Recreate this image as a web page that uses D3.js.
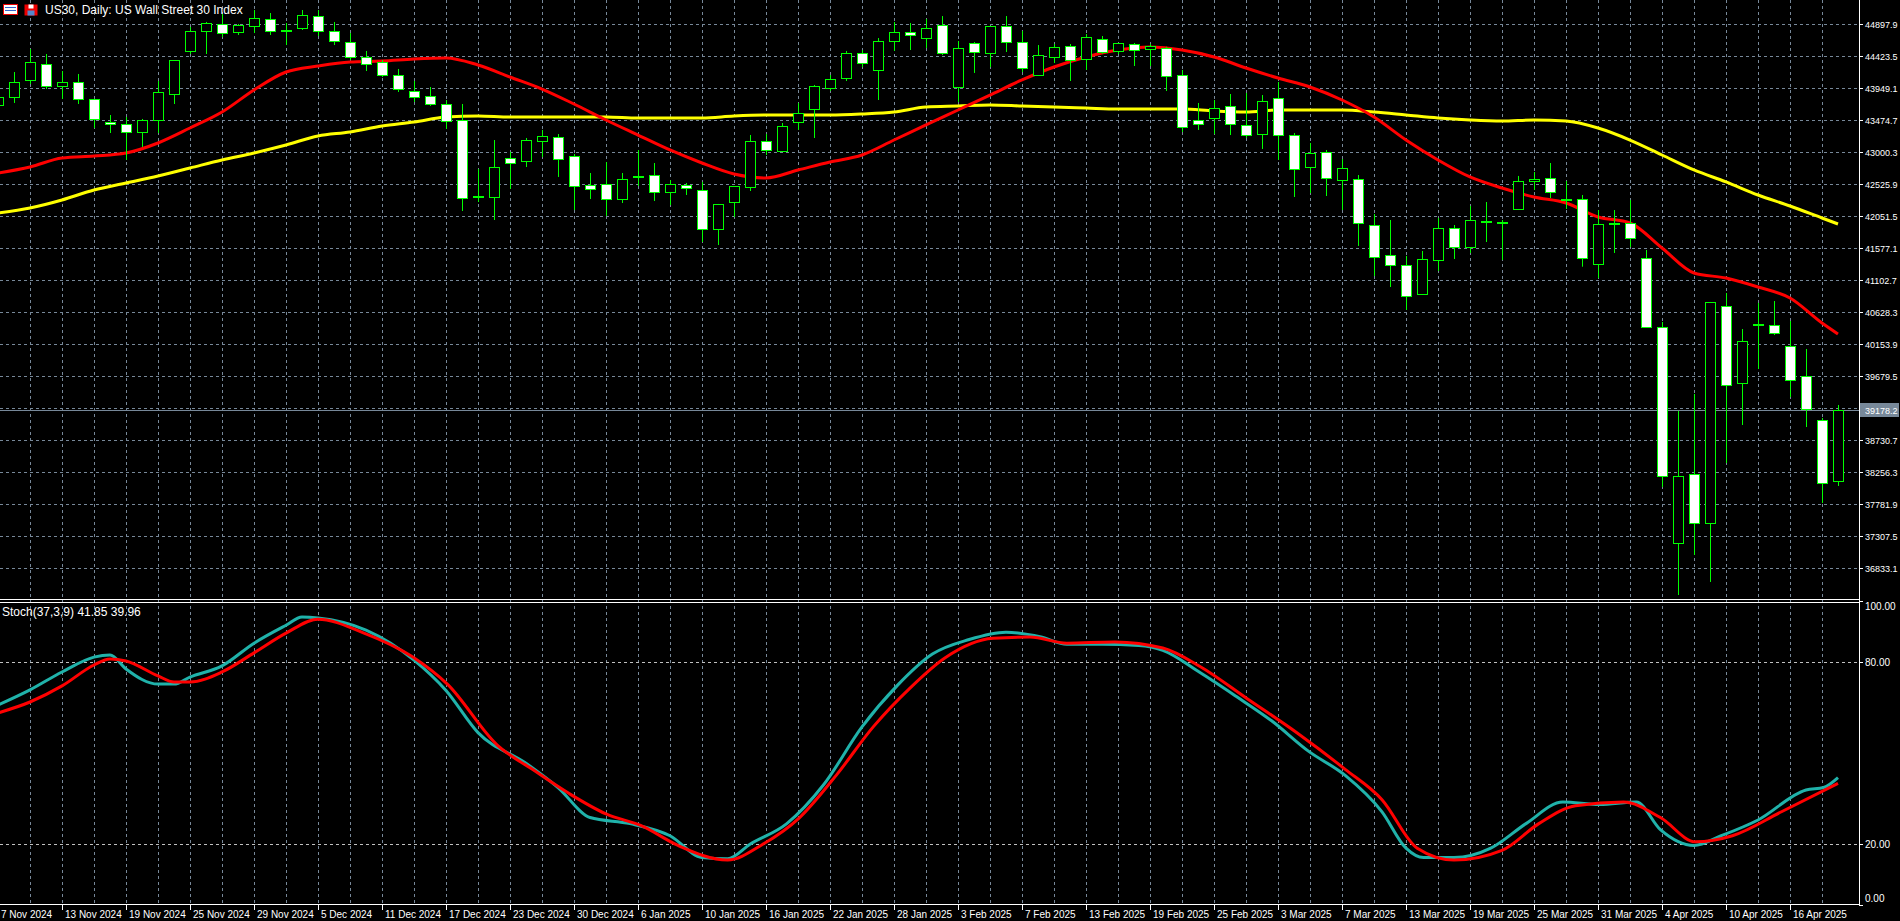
<!DOCTYPE html>
<html><head><meta charset="utf-8">
<script src="https://cdn.jsdelivr.net/npm/d3@7/dist/d3.min.js"></script>
<style>html,body{margin:0;padding:0;background:#000;overflow:hidden}svg{display:block}</style>
</head><body>
<svg id="c" width="1900" height="921"></svg>
<script>
const O=[43700,43816,44068,44305,43979,44038,43786,43445,43416,43297,43475,43860,44498,44794,44898,44779,44868,44972,44809,44839,
45016,44794,44631,44409,44335,44142,43905,43830,43712,43475,42347,42333,42911,42867,43163,43223,42941,42511,42526,42303,
42644,42660,42407,42511,42437,41859,42259,42481,43163,43015,43445,43638,43949,44097,44468,44216,44646,44779,44690,44883,
43964,44616,44468,44868,44631,44142,44409,44572,44379,44675,44498,44601,44527,44542,44142,43475,43504,43683,43401,43267,
43801,43252,42778,43000,42585,42600,41918,41474,41325,40895,41399,41874,41592,41977,41963,42155,42570,42615,42303,42303,
41340,41948,41948,41429,40407,37204,38226,37500,40717,39576,40450,40436,40124,39680,39027,38123];
const H=[43900,44186,44527,44453,44201,44157,43790,43549,43519,43490,44053,44364,44853,44928,45046,44898,45105,45061,44913,45105,
45105,44928,44764,44498,44364,44231,44053,43964,43771,43712,42748,43178,43000,43208,43327,43267,42971,42689,42852,42689,
43030,42837,42585,42541,42556,42230,42496,43253,43267,43430,43727,43994,44142,44498,44512,44690,44928,44913,44972,45016,
44646,44631,44868,45016,44794,44586,44601,44601,44749,44720,44616,44616,44601,44560,44216,43727,43771,43860,43875,43845,
44038,43282,43134,43030,42896,42659,42081,41992,41459,41533,42022,41918,42200,42259,41992,42645,42704,42837,42570,42363,
42140,42140,42289,41548,40480,39161,39413,40777,40910,40376,40762,40791,40495,40080,39057,39250];
const L=[43650,43727,44008,43934,43786,43712,43356,43282,42882,43075,43282,43712,44453,44453,44705,44735,44764,44735,44586,44809,
44720,44586,44364,44201,44112,43890,43742,43683,43341,42126,42259,41992,42452,42778,42926,42630,42140,42303,42052,42244,
42496,42274,42214,42363,41666,41622,42037,42422,42956,43000,43327,43208,43905,44053,44260,43771,44498,44512,44542,44438,
43742,44172,44260,44483,44186,44142,44320,44053,44216,44453,44453,44275,44275,43905,43297,43327,43267,43252,43208,43045,
42882,42333,42392,42348,42140,41607,41162,40999,40658,40880,41236,41414,41503,41666,41399,42140,42437,42318,42155,41300,
41132,41503,41592,40391,38034,36433,37026,36626,38390,38953,39783,40287,39368,38923,37797,38049];
const C=[43820,44038,44335,43979,44038,43786,43490,43416,43297,43475,43890,44364,44794,44913,44764,44883,44987,44794,44812,45031,
44794,44646,44409,44305,44142,43934,43816,43712,43460,42318,42350,42778,42837,43178,43237,42896,42496,42452,42303,42600,
42647,42407,42526,42467,41859,42230,42496,43163,43030,43386,43579,43979,44083,44468,44320,44646,44779,44735,44839,44468,
44542,44483,44868,44631,44246,44438,44557,44364,44705,44483,44616,44512,44572,44127,43371,43416,43653,43416,43252,43756,
43252,42748,42986,42615,42763,41948,41444,41325,40866,41415,41874,41592,41992,41980,41960,42570,42600,42407,42300,41429,
41933,41950,41726,40407,38197,38197,37500,40777,39546,40198,40453,40317,39620,39190,38093,39178];

const maIdx=[0,2,4,6,8,10,12,14,16,18,20,22,24,26,28,30,32,34,36,38,40,42,44,46,48,50,52,54,56,58,60,62,64,66,68,70,72,74,76,78,80,82,84,86,88,90,92,94,96,98,100,102,104,106,108,110,112,114,115];
const maFast=[42689,42778,42911,42941,42986,43134,43356,43593,43920,44186,44275,44335,44349,44379,44394,44290,44112,43934,43712,43475,43252,43030,42837,42674,42615,42733,42852,42956,43178,43401,43623,43845,44068,44260,44409,44512,44557,44512,44409,44246,44097,43964,43771,43519,43178,42882,42630,42466,42333,42244,42037,41948,41577,41207,41132,40999,40836,40465,40302];
const maSlow=[42096,42170,42289,42437,42541,42645,42763,42882,42986,43104,43238,43297,43386,43445,43519,43534,43519,43519,43519,43519,43504,43504,43504,43534,43549,43549,43549,43564,43593,43667,43682,43697,43682,43667,43652,43638,43638,43638,43608,43593,43623,43623,43623,43593,43549,43504,43475,43460,43475,43460,43356,43178,42956,42734,42556,42363,42200,42022,41933];

const stMainIdx=[0,2,4,6,7,8,10,11,12,14,16,18,19,20,23,26,28,30,33,35,37,39.5,42,44,45.6,47,49.3,51.6,54,56.2,58.4,60.7,63,65.2,66.8,69,71.3,72.8,75.1,77.4,79.6,81.9,84.2,86.5,88,89.1,91,93.3,95.5,97.8,100.1,102.4,103.9,106,107.7,110,113,114.1,115];
const stMain=[65.8,70.8,76.7,81.6,82.3,77.7,72.7,72.7,75.0,78.7,86.2,92.1,94.8,94.5,90.5,80.6,70.6,56.7,46.6,38.6,28.7,26.7,22.7,15.5,15.1,19.9,26.7,39.5,58.6,72.2,82.6,87.4,89.8,88.2,85.8,85.8,85.4,83.8,76.6,68.6,60.6,50.6,42.6,30.6,18.6,15.5,15.5,18.6,26.7,33.8,33.0,33.8,24.7,19.5,22.7,27.9,37.8,38.6,41.85];
const stSigIdx=[0,2,4,6,7,8,10,11,12,14,16,18,20,22.8,25.9,28.1,31.2,33.4,35.7,38,40.3,42.5,45.6,47.8,50.1,52.4,54.7,57,59.2,62.2,64.5,66.8,69.8,72.8,75.1,78.1,81.2,84.2,86.5,88.7,91,94,96.3,98.6,101.6,103.9,106.1,108.4,111.5,115];
const stSig=[63.2,66.8,72.1,79.0,81.0,80.3,75.4,73.4,73.4,76.7,83.0,89.5,94.1,89.7,81.7,72.6,52.6,44.6,36.6,29.9,25.8,19.5,14.7,19.9,28.7,42.7,58.6,71.4,81.4,87.8,88.2,86.2,86.6,84.6,78.6,67.8,56.6,44.6,34.6,18.6,14.7,17.9,26.7,32.6,33.8,28.7,20.7,22.7,30.7,39.96];

const priceTicks=[44897.9,44423.5,43949.1,43474.7,43000.3,42525.9,42051.5,41577.1,41102.7,40628.3,40153.9,39679.5,39205.1,38730.7,38256.3,37781.9,37307.5,36833.1];
const stochTicks=[100,80,20,0];
const dateLabels=["7 Nov 2024","13 Nov 2024","19 Nov 2024","25 Nov 2024","29 Nov 2024","5 Dec 2024","11 Dec 2024","17 Dec 2024","23 Dec 2024","30 Dec 2024","6 Jan 2025","10 Jan 2025","16 Jan 2025","22 Jan 2025","28 Jan 2025","3 Feb 2025","7 Feb 2025","13 Feb 2025","19 Feb 2025","25 Feb 2025","3 Mar 2025","7 Mar 2025","13 Mar 2025","19 Mar 2025","25 Mar 2025","31 Mar 2025","4 Apr 2025","10 Apr 2025","16 Apr 2025"];
const lastPrice=39178.2, stochText="Stoch(37,3,9) 41.85 39.96", title="US30, Daily:  US Wall Street 30 Index";

const svg=d3.select("#c");
const FONT="'Liberation Sans', Arial, sans-serif";
const axisX=1859, plotW=1859;
const x=d3.scaleLinear().domain([0,115]).range([-2,1838]);
const y=d3.scaleLinear().domain([36833.1,44897.9]).range([568,24]);
const ys=d3.scaleLinear().domain([0,100]).range([904.6,601.3]);
const grid="#778899";

svg.append("rect").attr("width",1900).attr("height",921).attr("fill","#000");
const plot=svg.append("g");
plot.append("clipPath").attr("id","cp").append("rect").attr("x",0).attr("y",0).attr("width",plotW).attr("height",599);
plot.append("clipPath").attr("id","cs").append("rect").attr("x",0).attr("y",603).attr("width",plotW).attr("height",301);

const vg=d3.range(0,116,2);
plot.selectAll(".vg").data(vg).join("line").attr("x1",d=>x(d)+0.5).attr("x2",d=>x(d)+0.5).attr("y1",0).attr("y2",904)
 .attr("stroke",grid).attr("stroke-dasharray","3,3");
plot.selectAll(".hg").data(priceTicks).join("line").attr("x1",0).attr("x2",plotW).attr("y1",d=>Math.round(y(d))+0.5).attr("y2",d=>Math.round(y(d))+0.5)
 .attr("stroke",grid).attr("stroke-dasharray","3,3");
plot.selectAll(".hs").data([80,20]).join("line").attr("x1",0).attr("x2",plotW).attr("y1",d=>Math.round(ys(d))+0.5).attr("y2",d=>Math.round(ys(d))+0.5)
 .attr("stroke","#c0c0c0").attr("stroke-dasharray","3,3");

const pg=plot.append("g").attr("clip-path","url(#cp)");
const mline=d3.line().x((d,i)=>x(maIdx[i])).y(d=>y(d)).curve(d3.curveMonotoneX);
pg.append("path").attr("d",mline(maSlow)).attr("fill","none").attr("stroke","#ffff00").attr("stroke-width",3);
pg.append("path").attr("d",mline(maFast)).attr("fill","none").attr("stroke","#ff0000").attr("stroke-width",3);

pg.append("line").attr("x1",0).attr("x2",plotW).attr("y1",Math.round(y(lastPrice))+0.5).attr("y2",Math.round(y(lastPrice))+0.5).attr("stroke",grid);

const idx=d3.range(O.length);
pg.selectAll(".wk").data(idx).join("line").attr("x1",i=>x(i)+0.5).attr("x2",i=>x(i)+0.5)
 .attr("y1",i=>y(H[i])).attr("y2",i=>y(L[i])).attr("stroke","#00ff00").attr("stroke-width",1);
pg.selectAll(".bd").data(idx).join("rect")
 .attr("x",i=>x(i)-4.5).attr("width",10)
 .attr("y",i=>Math.round(y(Math.max(O[i],C[i])))+0.5)
 .attr("height",i=>Math.max(1,Math.round(Math.abs(y(O[i])-y(C[i])))))
 .attr("fill",i=>C[i]>=O[i]?"#000":"#fff").attr("stroke","#00ff00").attr("stroke-width",1);

const sg=plot.append("g").attr("clip-path","url(#cs)");
sg.append("path").attr("d",d3.line().x((d,i)=>x(stMainIdx[i])).y(d=>ys(d)).curve(d3.curveMonotoneX)(stMain))
 .attr("fill","none").attr("stroke","#20b2aa").attr("stroke-width",3);
sg.append("path").attr("d",d3.line().x((d,i)=>x(stSigIdx[i])).y(d=>ys(d)).curve(d3.curveMonotoneX)(stSig))
 .attr("fill","none").attr("stroke","#ff0000").attr("stroke-width",3);

svg.append("line").attr("x1",0).attr("x2",axisX).attr("y1",599.5).attr("y2",599.5).attr("stroke","#fff");
svg.append("line").attr("x1",0).attr("x2",axisX).attr("y1",602.5).attr("y2",602.5).attr("stroke","#fff");
svg.append("line").attr("x1",axisX+0.5).attr("x2",axisX+0.5).attr("y1",0).attr("y2",905).attr("stroke","#fff");
svg.append("line").attr("x1",0).attr("x2",axisX).attr("y1",904.5).attr("y2",904.5).attr("stroke","#fff");

const ax=svg.append("g").attr("font-family",FONT).attr("font-size",9).attr("fill","#fff");
const cy=Math.round(y(lastPrice));
priceTicks.forEach(p=>{
  const yy=Math.round(y(p));
  ax.append("line").attr("x1",axisX).attr("x2",axisX+4).attr("y1",yy+0.5).attr("y2",yy+0.5).attr("stroke","#fff");
  if(Math.abs(yy-cy)>8) ax.append("text").attr("x",axisX+6).attr("y",yy+3.5).text(p.toFixed(1));
});
ax.append("rect").attr("x",axisX+1).attr("y",cy-7).attr("width",39).attr("height",14).attr("fill",grid);
ax.append("text").attr("x",axisX+6).attr("y",cy+3.5).text(lastPrice.toFixed(1));
stochTicks.forEach(v=>{
  const yy=Math.round(ys(v));
  const ty=v===100?yy+9:(v===0?yy-3:yy+3.5);
  ax.append("line").attr("x1",axisX).attr("x2",axisX+4).attr("y1",yy+0.5).attr("y2",yy+0.5).attr("stroke","#fff");
  ax.append("text").attr("x",axisX+6).attr("y",ty).attr("font-size",10).text(v.toFixed(2));
});
dateLabels.forEach((t,k)=>{
  const xx=x(k*4);
  ax.append("line").attr("x1",xx+0.5).attr("x2",xx+0.5).attr("y1",904).attr("y2",910).attr("stroke","#fff");
  ax.append("text").attr("x",xx+3).attr("y",918).attr("font-size",10).text(t);
});

const tg=svg.append("g").attr("font-family",FONT).attr("font-size",12).attr("fill","#fff");
tg.append("text").attr("x",45).attr("y",14).text(title);
tg.append("text").attr("x",2).attr("y",616).text(stochText);
svg.append("rect").attr("x",3.5).attr("y",4.5).attr("width",14).attr("height",10).attr("fill","#fff").attr("stroke","#e00");
[7.5,10.5].forEach(v=>svg.append("line").attr("x1",5).attr("x2",16).attr("y1",v).attr("y2",v).attr("stroke","#36c"));
svg.append("rect").attr("x",24.5).attr("y",4.5).attr("width",13).attr("height",11).attr("fill","#e00");
svg.append("rect").attr("x",28.5).attr("y",4.5).attr("width",5).attr("height",4).attr("fill","#fff");
svg.append("rect").attr("x",27.5).attr("y",10.5).attr("width",7).attr("height",5).attr("fill","#5588cc");
</script>
</body></html>
